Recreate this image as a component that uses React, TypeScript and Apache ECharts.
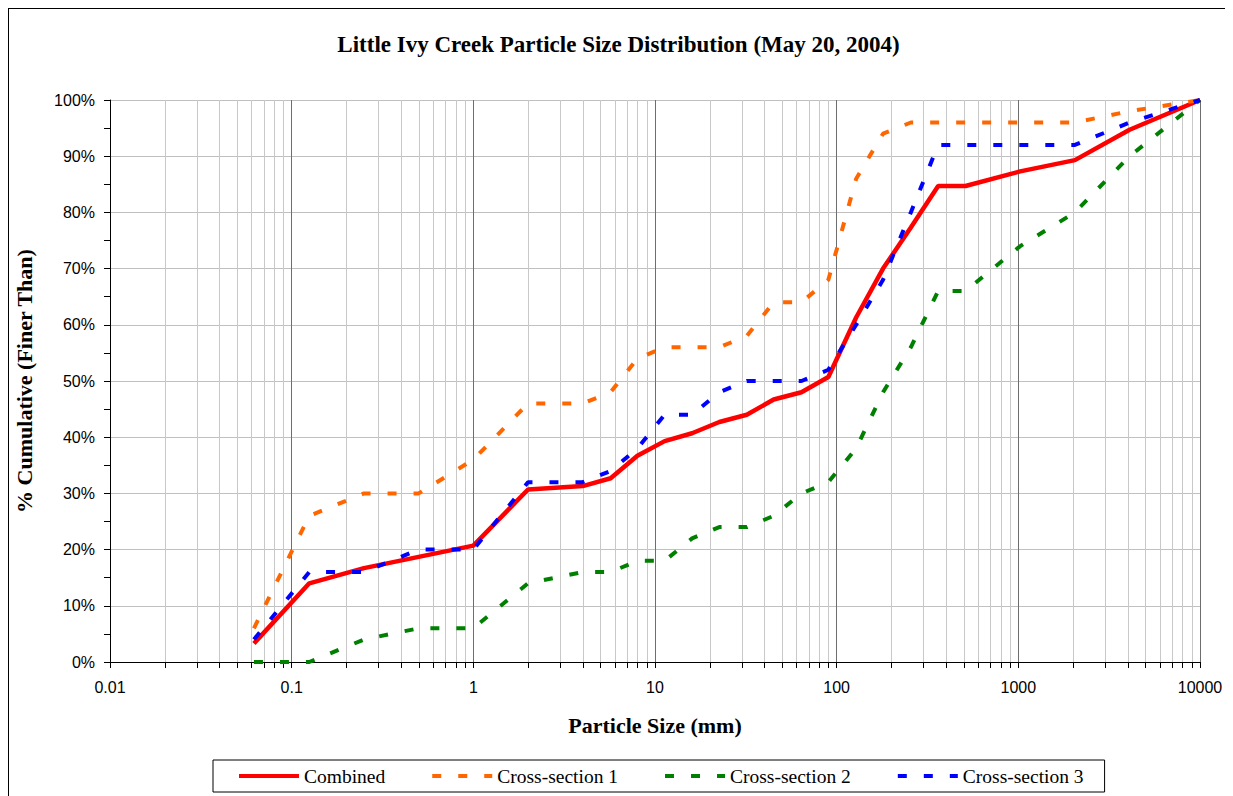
import React, { useEffect, useRef } from "react";
import * as echarts from "echarts";

// Particle sizes (mm) – sieve classes
const sizes = [0.062, 0.125, 0.25, 0.5, 1, 2, 4, 5.7, 8, 11.3, 16, 22.6, 32, 45, 64, 90, 128, 180, 256, 362, 512, 1024, 2048, 4096, 10000];

// % cumulative finer than
const combined = [3.3, 14.0, 16.7, 18.7, 20.7, 30.7, 31.3, 32.7, 36.7, 39.3, 40.7, 42.7, 44.0, 46.7, 48.0, 50.7, 61.3, 70.0, 77.3, 84.7, 84.7, 87.3, 89.3, 94.7, 100];
const crossSection1 = [6, 26, 30, 30, 36, 46, 46, 48, 54, 56, 56, 56, 58, 64, 64, 68, 86, 94, 96, 96, 96, 96, 96, 98, 100];
const crossSection2 = [0, 0, 4, 6, 6, 14, 16, 16, 18, 18, 22, 24, 24, 26, 30, 32, 38, 48, 56, 66, 66, 74, 80, 90, 100];
const crossSection3 = [4, 16, 16, 20, 20, 32, 32, 34, 38, 44, 44, 48, 50, 50, 50, 52, 60, 68, 80, 92, 92, 92, 92, 96, 100];

const seriesNames = ["Combined", "Cross-section 1", "Cross-section 2", "Cross-section 3"];
const seriesColors = ["#FF0000", "#FF6600", "#008000", "#0000FF"];

// log-axis minor positions (2..9 within each decade)
const decades = [0.01, 0.1, 1, 10, 100, 1000];
const minorMultipliers = [2, 3, 4, 5, 6, 7, 8, 9];
const minorValues: number[] = [];
decades.forEach((d) => minorMultipliers.forEach((m) => minorValues.push(Number((d * m).toPrecision(6)))));

const SERIF = "'Liberation Serif', 'Times New Roman', serif";
const SANS = "'Liberation Sans', Arial, sans-serif";

function pairs(ys: number[]) {
  return sizes.map((x, i) => [x, ys[i]]);
}

export default function App() {
  const ref = useRef<HTMLDivElement>(null);

  useEffect(() => {
    document.documentElement.style.overflow = "hidden";
    const chart = echarts.init(ref.current!, null, { renderer: "svg" });
    const dashed = [9, 17];
    const option: any = {
      animation: false,
      backgroundColor: "#ffffff",
      title: {
        text: "Little Ivy Creek Particle Size Distribution (May 20, 2004)",
        left: "center",
        top: 19,
        textStyle: { fontFamily: SERIF, fontSize: 23, fontWeight: "bold", color: "#000" },
      },
      legend: {
        data: seriesNames.map((n, i) =>
          i === 0
            ? { name: n, lineStyle: { width: 4, type: "solid" } }
            : { name: n, lineStyle: { width: 4, type: dashed } }
        ),
        left: 204,
        top: 751,
        orient: "horizontal",
        itemWidth: 60,
        itemHeight: 14,
        itemGap: 45,
        padding: [6, 21, 6, 24],
        borderColor: "#000",
        borderWidth: 1,
        itemStyle: { opacity: 0 },
        lineStyle: { width: 4 },
        textStyle: { fontFamily: SERIF, fontSize: 19.5, color: "#000" },
      },
      grid: {
        left: 101,
        top: 91,
        width: 1090,
        height: 562,
        containLabel: false,
        outerBoundsMode: "none",
      },
      xAxis: {
        type: "log",
        logBase: 10,
        min: 0.01,
        max: 10000,
        splitNumber: 6,
        name: "Particle Size (mm)",
        nameLocation: "middle",
        nameGap: 52,
        nameTextStyle: { fontFamily: SERIF, fontSize: 22, fontWeight: "bold", color: "#000" },
        axisLine: { show: true, lineStyle: { color: "#000", width: 1 } },
        axisTick: { show: true, length: 6, lineStyle: { color: "#000" } },
        axisLabel: {
          margin: 17,
          fontFamily: SANS,
          fontSize: 16,
          color: "#000",
          formatter: (v: number) => String(Number(v.toPrecision(6))),
        },
        splitLine: { show: true, lineStyle: { color: "#6e6e6e", width: 1 } },
        minorTick: { show: false },
        minorSplitLine: { show: false },
      },
      yAxis: {
        type: "value",
        min: 0,
        max: 100,
        interval: 10,
        name: "% Cumulative (Finer Than)",
        nameLocation: "middle",
        nameGap: 75,
        nameRotate: 90,
        nameTextStyle: { fontFamily: SERIF, fontSize: 22, fontWeight: "bold", color: "#000" },
        axisLine: { show: true, lineStyle: { color: "#000", width: 1 } },
        axisTick: { show: true, length: 6, lineStyle: { color: "#000" } },
        minorTick: { show: true, splitNumber: 2, length: 6, lineStyle: { color: "#000" } },
        axisLabel: { margin: 15, fontFamily: SANS, fontSize: 16, color: "#000", formatter: "{value}%" },
        splitLine: { show: true, lineStyle: { color: "#c0c0c0", width: 1 } },
      },
      series: [
        {
          type: "custom",
          name: "minor",
          silent: true,
          z: 1,
          clip: false,
          data: minorValues.map((v) => [v, 0]),
          encode: { x: 0, y: 1 },
          renderItem: (params: any, api: any) => {
            const p0 = api.coord([api.value(0), 0]);
            const p1 = api.coord([api.value(0), 100]);
            const x = Math.round(p0[0]) + 0.5;
            return {
              type: "group",
              children: [
                {
                  type: "line",
                  shape: { x1: x, y1: p1[1], x2: x, y2: p0[1] },
                  style: { stroke: "#c8c8c8", lineWidth: 1 },
                },
                {
                  type: "line",
                  shape: { x1: x, y1: p0[1], x2: x, y2: p0[1] + 6 },
                  style: { stroke: "#000", lineWidth: 1 },
                },
              ],
            };
          },
        },
        {
          name: seriesNames[0],
          type: "line",
          z: 3,
          data: pairs(combined),
          showSymbol: false,
          symbol: "none",
          lineStyle: { color: seriesColors[0], width: 4.5, type: "solid" },
          itemStyle: { color: seriesColors[0] },
        },
        {
          name: seriesNames[1],
          type: "line",
          z: 4,
          data: pairs(crossSection1),
          showSymbol: false,
          symbol: "none",
          lineStyle: { color: seriesColors[1], width: 4, type: dashed, cap: "butt" },
          itemStyle: { color: seriesColors[1] },
        },
        {
          name: seriesNames[2],
          type: "line",
          z: 4,
          data: pairs(crossSection2),
          showSymbol: false,
          symbol: "none",
          lineStyle: { color: seriesColors[2], width: 4, type: dashed, cap: "butt" },
          itemStyle: { color: seriesColors[2] },
        },
        {
          name: seriesNames[3],
          type: "line",
          z: 5,
          data: pairs(crossSection3),
          showSymbol: false,
          symbol: "none",
          lineStyle: { color: seriesColors[3], width: 4, type: dashed, cap: "butt" },
          itemStyle: { color: seriesColors[3] },
        },
      ],
    };
    chart.setOption(option);
    return () => chart.dispose();
  }, []);

  return (
    <div style={{ width: 1219, height: 800, border: "1px solid #000" }}>
      <div ref={ref} style={{ width: 1219, height: 800 }} />
    </div>
  );
}
